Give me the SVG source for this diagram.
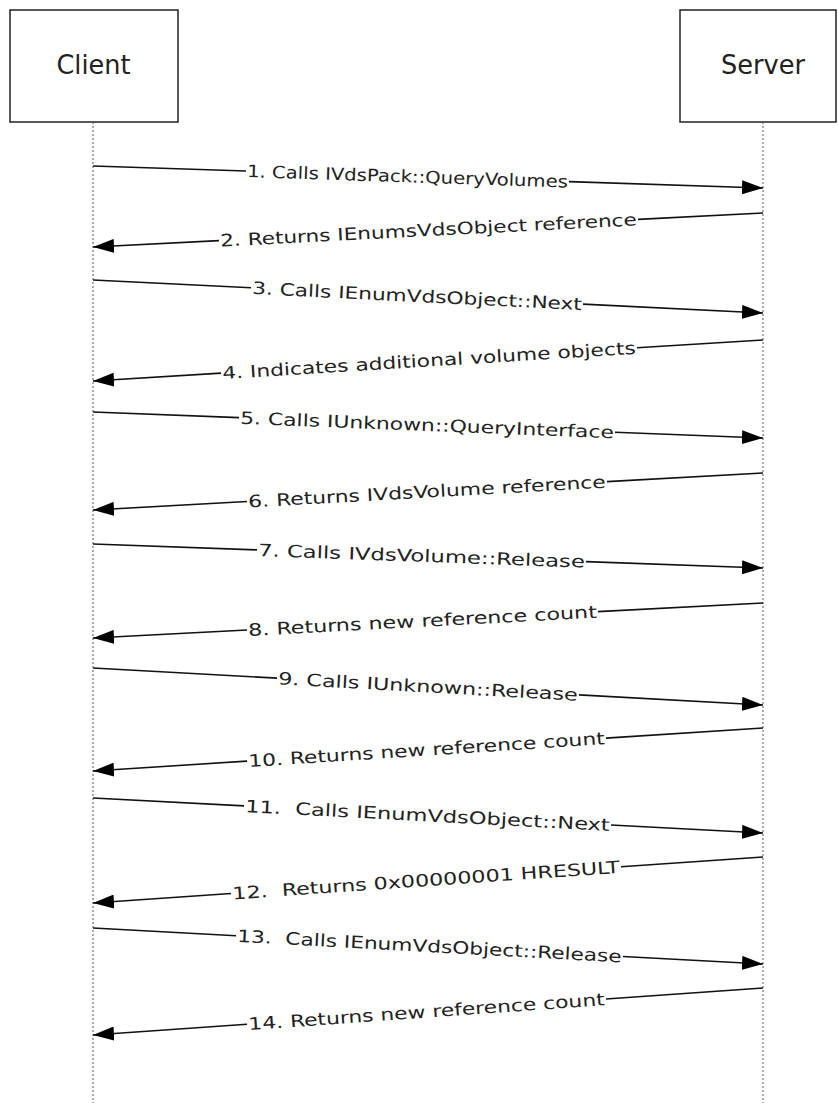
<svg xmlns="http://www.w3.org/2000/svg" width="838" height="1103" viewBox="0 0 838 1103">
<style>
.box{fill:#fff;stroke:#222;stroke-width:1.5}
.life{stroke:#555;stroke-width:1;stroke-dasharray:2,2;fill:none}
.ln{stroke:#111;stroke-width:1.6;fill:none}
.lbl{font-family:"DejaVu Sans",Verdana,sans-serif;font-stretch:condensed;font-size:17px;fill:#222;white-space:pre}
.title{font-family:"DejaVu Sans",Verdana,sans-serif;font-stretch:condensed;font-size:26px;fill:#222}
</style>
<defs>
<marker id="ah" markerUnits="userSpaceOnUse" markerWidth="22" markerHeight="14" refX="21" refY="7" orient="auto">
<path d="M0,0 L21,7 L0,14 z" fill="#000"/>
</marker>
</defs>
<g id="client">
<rect class="box" x="10" y="10" width="168" height="112"/>
<text class="title" x="93.5" y="74" text-anchor="middle" textLength="74" lengthAdjust="spacingAndGlyphs">Client</text>
<line class="life" x1="93" y1="122" x2="93" y2="1103"/>
</g>
<g id="server">
<rect class="box" x="680" y="10" width="156" height="112"/>
<text class="title" x="763" y="74" text-anchor="middle" textLength="84" lengthAdjust="spacingAndGlyphs">Server</text>
<line class="life" x1="763" y1="122" x2="763" y2="1103"/>
</g>
<g id="connectors">
<path class="ln" d="M93,166 L246,171.02"/><path class="ln" d="M569,181.63 L763,188" marker-end="url(#ah)"/>
<path class="ln" d="M763,213 L638,219.34"/><path class="ln" d="M219,240.61 L93,247" marker-end="url(#ah)"/>
<path class="ln" d="M93,280 L251,287.78"/><path class="ln" d="M583,304.13 L763,313" marker-end="url(#ah)"/>
<path class="ln" d="M763,340 L637,347.71"/><path class="ln" d="M221,373.17 L93,381" marker-end="url(#ah)"/>
<path class="ln" d="M93,412 L239,417.67"/><path class="ln" d="M615,432.26 L763,438" marker-end="url(#ah)"/>
<path class="ln" d="M763,473 L607,481.62"/><path class="ln" d="M247,501.5 L93,510" marker-end="url(#ah)"/>
<path class="ln" d="M93,544 L257,549.87"/><path class="ln" d="M586,561.66 L763,568" marker-end="url(#ah)"/>
<path class="ln" d="M763,603 L598,611.62"/><path class="ln" d="M247,629.96 L93,638" marker-end="url(#ah)"/>
<path class="ln" d="M93,668 L277,678.16"/><path class="ln" d="M579,694.84 L763,705" marker-end="url(#ah)"/>
<path class="ln" d="M763,728 L606,738.08"/><path class="ln" d="M247,761.12 L93,771" marker-end="url(#ah)"/>
<path class="ln" d="M93,798 L244,805.89"/><path class="ln" d="M611,825.06 L763,833" marker-end="url(#ah)"/>
<path class="ln" d="M763,857 L621,866.75"/><path class="ln" d="M231,893.53 L93,903" marker-end="url(#ah)"/>
<path class="ln" d="M93,928 L236,935.68"/><path class="ln" d="M623,956.48 L763,964" marker-end="url(#ah)"/>
<path class="ln" d="M763,988 L606,999.01"/><path class="ln" d="M247,1024.2 L93,1035" marker-end="url(#ah)"/>
</g>
<g id="labels">
<text class="lbl" text-anchor="middle" dy="6" textLength="321" lengthAdjust="spacingAndGlyphs" transform="translate(407.5,176.33) rotate(1.881)">1. Calls IVdsPack::QueryVolumes</text>
<text class="lbl" text-anchor="middle" dy="6" textLength="417" lengthAdjust="spacingAndGlyphs" transform="translate(428.5,229.97) rotate(-2.905)">2. Returns IEnumsVdsObject reference</text>
<text class="lbl" text-anchor="middle" dy="6" textLength="330" lengthAdjust="spacingAndGlyphs" transform="translate(417,295.96) rotate(2.82)">3. Calls IEnumVdsObject::Next</text>
<text class="lbl" text-anchor="middle" dy="6" textLength="414" lengthAdjust="spacingAndGlyphs" transform="translate(429,360.44) rotate(-3.502)">4. Indicates additional volume objects</text>
<text class="lbl" text-anchor="middle" dy="6" textLength="374" lengthAdjust="spacingAndGlyphs" transform="translate(427,424.96) rotate(2.222)">5. Calls IUnknown::QueryInterface</text>
<text class="lbl" text-anchor="middle" dy="6" textLength="358" lengthAdjust="spacingAndGlyphs" transform="translate(427,491.56) rotate(-3.161)">6. Returns IVdsVolume reference</text>
<text class="lbl" text-anchor="middle" dy="6" textLength="327" lengthAdjust="spacingAndGlyphs" transform="translate(421.5,555.77) rotate(2.052)">7. Calls IVdsVolume::Release</text>
<text class="lbl" text-anchor="middle" dy="6" textLength="349" lengthAdjust="spacingAndGlyphs" transform="translate(422.5,620.79) rotate(-2.99)">8. Returns new reference count</text>
<text class="lbl" text-anchor="middle" dy="6" textLength="300" lengthAdjust="spacingAndGlyphs" transform="translate(428,686.5) rotate(3.161)">9. Calls IUnknown::Release</text>
<text class="lbl" text-anchor="middle" dy="6" textLength="357" lengthAdjust="spacingAndGlyphs" transform="translate(426.5,749.6) rotate(-3.672)">10. Returns new reference count</text>
<text class="lbl" text-anchor="middle" dy="6" textLength="365" lengthAdjust="spacingAndGlyphs" transform="translate(427.5,815.47) rotate(2.99)">11.  Calls IEnumVdsObject::Next</text>
<text class="lbl" text-anchor="middle" dy="6" textLength="388" lengthAdjust="spacingAndGlyphs" transform="translate(426,880.14) rotate(-3.928)">12.  Returns 0x00000001 HRESULT</text>
<text class="lbl" text-anchor="middle" dy="6" textLength="385" lengthAdjust="spacingAndGlyphs" transform="translate(429.5,946.08) rotate(3.076)">13.  Calls IEnumVdsObject::Release</text>
<text class="lbl" text-anchor="middle" dy="6" textLength="357" lengthAdjust="spacingAndGlyphs" transform="translate(426.5,1011.61) rotate(-4.012)">14. Returns new reference count</text>
</g>
</svg>
